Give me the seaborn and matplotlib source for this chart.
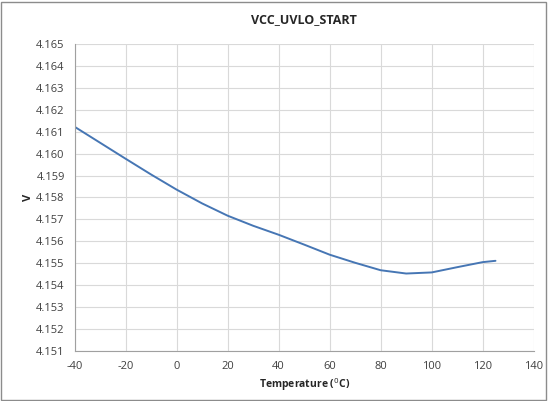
import numpy as np
import pandas as pd
import matplotlib
matplotlib.use("Agg")
import matplotlib.pyplot as plt
import seaborn as sns
from matplotlib.patches import Rectangle

# values
temperature = [-40, -30, -20, -10, 0, 10, 20, 30, 40, 50, 60, 70, 80, 90, 100, 110, 120, 125]
vcc_uvlo_start = [4.16123, 4.16050, 4.15977, 4.15905, 4.15836, 4.15773, 4.15717, 4.15671,
                  4.15630, 4.15585, 4.15539, 4.15502, 4.15468, 4.15453, 4.15458, 4.15482,
                  4.15505, 4.15511]
x_ticks = list(range(-40, 141, 20))
y_ticks = [4.151 + 0.001 * i for i in range(15)]

df = pd.DataFrame({"Temperature": temperature, "V": vcc_uvlo_start})

sns.set_style("whitegrid")
plt.rcParams["font.family"] = ["Open Sans", "DejaVu Sans"]
plt.rcParams["axes.unicode_minus"] = False

fig, ax = plt.subplots(figsize=(5.48, 4.01), dpi=100)
fig.subplots_adjust(left=0.136, right=0.974, top=0.890, bottom=0.125)

sns.lineplot(data=df, x="Temperature", y="V", ax=ax, color="#4676b4", linewidth=1.4)

ax.set_xlim(-40, 140)
ax.set_ylim(4.151, 4.165)
ax.set_xticks(x_ticks)
ax.set_yticks(y_ticks)
ax.set_yticklabels([f"{v:.3f}" for v in y_ticks])
ax.tick_params(labelsize=8, colors="#404040", length=4, width=0.8, pad=3)
ax.tick_params(color="#a0a0a0")
ax.grid(color="#d9d9d9", linewidth=0.8)
for side in ["top", "right"]:
    ax.spines[side].set_visible(False)
for side in ["left", "bottom"]:
    ax.spines[side].set_color("#a0a0a0")
    ax.spines[side].set_linewidth(0.8)

ax.set_title("VCC_UVLO_START", fontsize=9, fontweight="bold", pad=15)
ax.set_xlabel("Temperature ($^{0}$C)", fontsize=7.5, fontweight="bold", labelpad=3)
ax.set_ylabel("V", fontsize=8, fontweight="bold", labelpad=2)

fig.patches.append(Rectangle((0.002, 0.003), 0.995, 0.993, transform=fig.transFigure,
                             fill=False, edgecolor="#8c8c8c", linewidth=1))

fig.savefig("out.png", dpi=100)
